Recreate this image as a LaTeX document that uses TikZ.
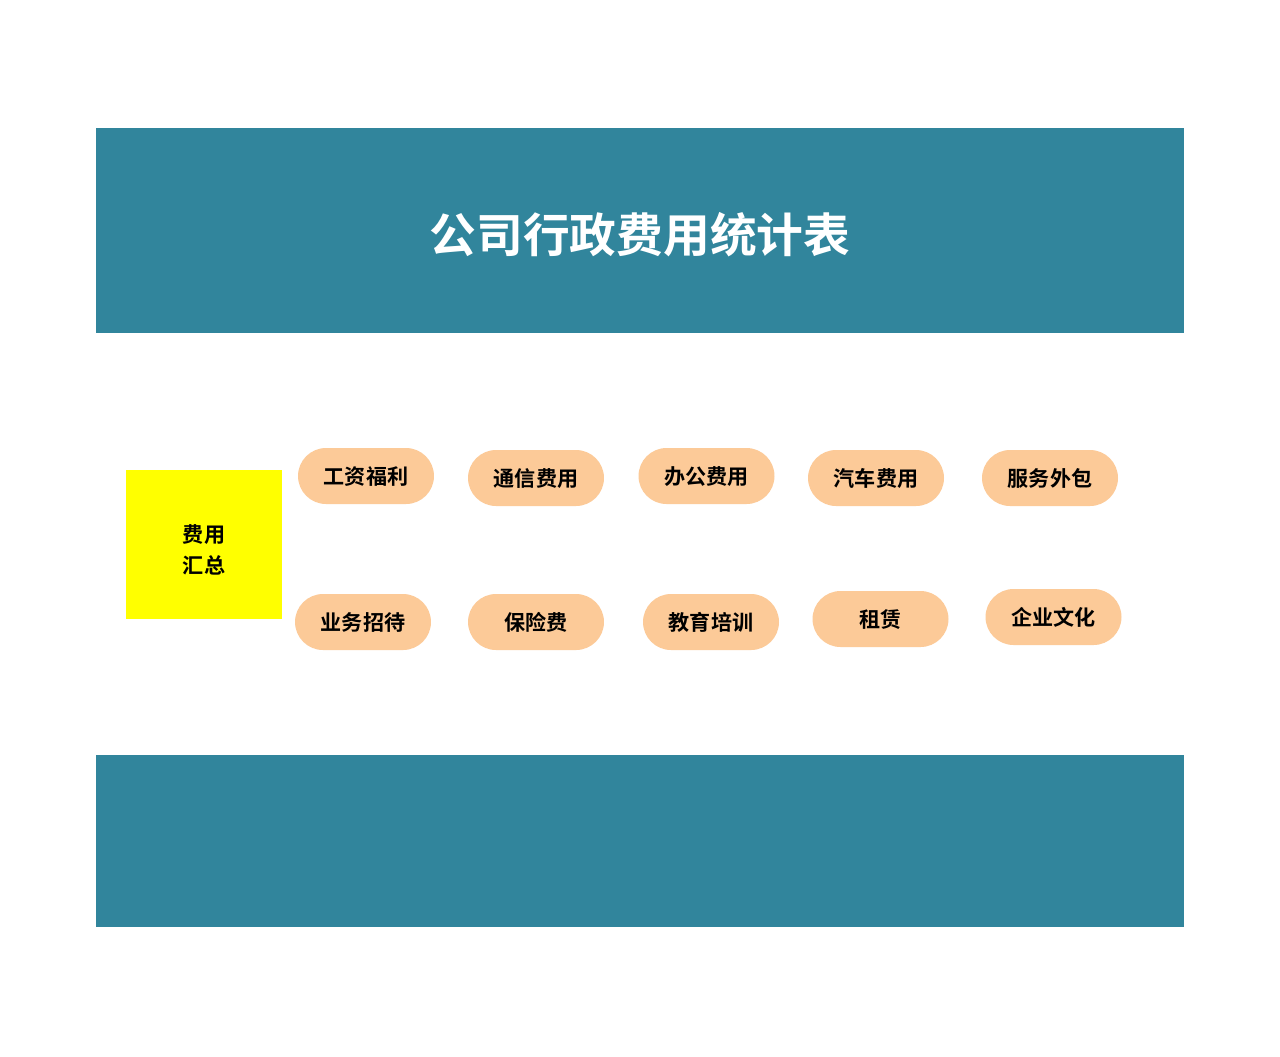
\documentclass[tikz,border=0pt]{standalone}
\usepackage{fontspec}
\newfontfamily\cjk{Noto Sans CJK SC}[BoldFont={Noto Sans CJK SC Bold}]
\usetikzlibrary{shapes.misc}
\definecolor{teal}{RGB}{49,133,156}
\definecolor{peach}{RGB}{252,202,152}
\definecolor{sumyellow}{RGB}{255,255,0}

\begin{document}
\begin{tikzpicture}[x=0.02cm,y=-0.02cm,
    banner/.style={fill=teal,draw=none},
    pill/.style={rounded rectangle,fill=peach,draw=none,minimum width=2.72cm,minimum height=1.12cm,inner sep=0pt,text height=1em,text depth=0pt,font=\cjk\bfseries\fontsize{12}{14}\selectfont}]
    % 画布
    \useasboundingbox (0,0) rectangle (1280,1056);
    \fill[white] (0,0) rectangle (1280,1056);

    % 上下色带
    \fill[banner] (96,128) rectangle (1184,333);
    \fill[banner] (96,755) rectangle (1184,927);
    \node[text=white,font=\cjk\bfseries\fontsize{26.6}{30}\selectfont] (title) at (640,235) {公司行政费用统计表};

    % 汇总
    \node[fill=sumyellow,minimum width=3.12cm,minimum height=2.98cm,inner sep=0pt] (sum) at (204,544.5) {};
    \node[align=center,inner sep=0pt,font=\cjk\bfseries\fontsize{12}{17.6}\selectfont] (sumtext) at ([yshift=-3]sum.center) {费用\\汇总};

    % 第一行
    \node[pill] (wage) at (366,476) {工资福利};
    \node[pill] (comm) at (536,478) {通信费用};
    \node[pill] (office) at (706.5,476) {办公费用};
    \node[pill] (car) at (876,478) {汽车费用};
    \node[pill] (outsrc) at (1050,478) {服务外包};

    % 第二行
    \node[pill] (enter) at (363,622) {业务招待};
    \node[pill] (insur) at (536,622) {保险费};
    \node[pill] (train) at (711,622) {教育培训};
    \node[pill] (rent) at (880.5,619) {租赁};
    \node[pill] (culture) at (1053.5,617) {企业文化};

\end{tikzpicture}
\end{document}
